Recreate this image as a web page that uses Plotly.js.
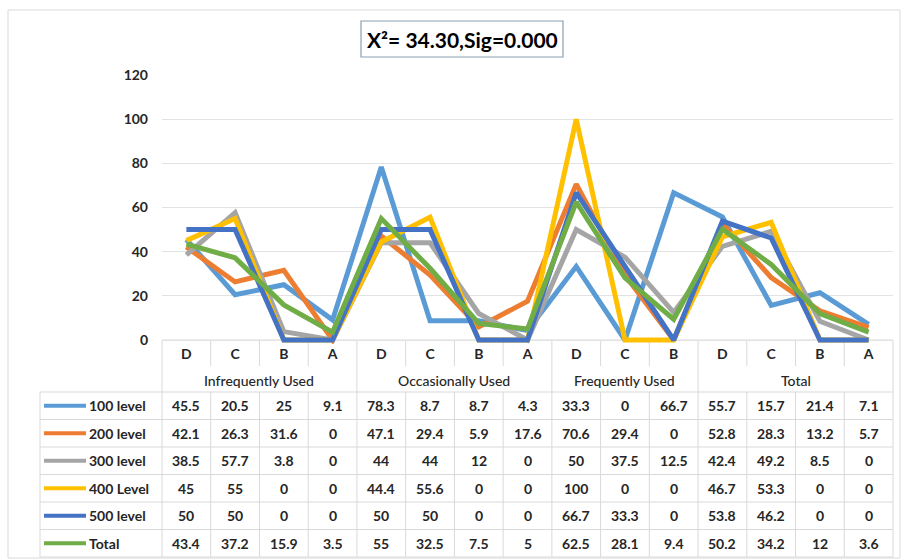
<!DOCTYPE html>
<html>
<head>
<meta charset="utf-8">
<script src="https://cdn.plot.ly/plotly-3.0.1.min.js"></script>
<style>html,body{margin:0;padding:0;background:#fff;}#chart{width:906px;height:560px;}</style>
</head>
<body>
<div id="chart"></div>
<script>
// ---- data ----
const categories = ["D","C","B","A","D","C","B","A","D","C","B","D","C","B","A"];
const groupNames = ["Infrequently Used","Occasionally Used","Frequently Used","Total"];
const groupSizes = [4,4,3,4];
const seriesNames = ["100 level","200 level","300 level","400 Level","500 level","Total"];
const level100 = [45.5,20.5,25,9.1, 78.3,8.7,8.7,4.3, 33.3,0,66.7, 55.7,15.7,21.4,7.1];
const level200 = [42.1,26.3,31.6,0, 47.1,29.4,5.9,17.6, 70.6,29.4,0, 52.8,28.3,13.2,5.7];
const level300 = [38.5,57.7,3.8,0, 44,44,12,0, 50,37.5,12.5, 42.4,49.2,8.5,0];
const level400 = [45,55,0,0, 44.4,55.6,0,0, 100,0,0, 46.7,53.3,0,0];
const level500 = [50,50,0,0, 50,50,0,0, 66.7,33.3,0, 53.8,46.2,0,0];
const levelTotal = [43.4,37.2,15.9,3.5, 55,32.5,7.5,5, 62.5,28.1,9.4, 50.2,34.2,12,3.6];
const yTicks = [0,20,40,60,80,100,120];
const titleText = "X\u00B2= 34.30,Sig=0.000";

const seriesValues = [level100, level200, level300, level400, level500, levelTotal];
const colors = ["#5B9BD5","#ED7D31","#A5A5A5","#FFC000","#4472C4","#70AD47"];

// ---- geometry (pixels) ----
const W = 906, H = 560;
const L = 162, R = 893, T = 75, Z = 340;      // Z = pixel row of value 0
const pxPerUnit = (Z - T) / 120;
const B = 344;                                 // plot bottom slightly below 0 so lines at 0 are not clipped
const yMin = -(B - Z) / pxPerUnit;
const px = x => (x - L) / (R - L);
const py = y => (B - y) / (B - T);
const n = categories.length;
const colW = (R - L) / n;
const catRowBottom = 366;
const groupRowBottom = 392;
const rowH = 27.5;
const tableLeft = 40;
const gridCol = "#d9d9d9";
const FONT = "Lato, 'Open Sans', sans-serif";
const textCol = "#262626";

const traces = seriesValues.map((vals, i) => ({
  type: "scatter", mode: "lines",
  x: categories.map((_, k) => k), y: vals,
  name: seriesNames[i],
  line: {color: colors[i], width: 5},
  hoverinfo: "skip"
}));

const shapes = [];
const annotations = [];
const line = (x0,y0,x1,y1,color,w,layer) => shapes.push({type:"line", xref:"paper", yref:"paper",
  x0:px(x0), y0:py(y0), x1:px(x1), y1:py(y1), line:{color:color||gridCol, width:w||1}, layer:layer||"above"});

// outer chart border
shapes.push({type:"rect", xref:"paper", yref:"paper", x0:px(8), y0:py(10), x1:px(900), y1:py(558),
  line:{color:"#d9d9d9", width:1}, layer:"below"});
// title box
shapes.push({type:"rect", xref:"paper", yref:"paper", x0:px(361), y0:py(21), x1:px(563), y1:py(57),
  line:{color:"#8c9fb5", width:1.2}, fillcolor:"#ffffff"});
annotations.push({xref:"paper", yref:"paper", x:px(462), y:py(39), text:titleText, showarrow:false,
  font:{family:FONT, size:21, color:"#000", weight:"bold"}, xanchor:"center", yanchor:"middle"});

// table top line (category axis line)
line(L, Z, R, Z, gridCol, 1, "below");
// table horizontal lines
const nRows = seriesNames.length;
line(tableLeft, groupRowBottom, R, groupRowBottom);
for (let r = 1; r <= nRows; r++) {
  const y = groupRowBottom + r * rowH;
  line(tableLeft, y, R, y);
}
const tableBottom = groupRowBottom + nRows * rowH;
// vertical lines
line(tableLeft, groupRowBottom, tableLeft, tableBottom);
line(L, Z, L, tableBottom, gridCol, 1, "below");
let boundaries = [];
let acc = 0;
groupSizes.forEach(s => { acc += s; boundaries.push(acc); });
for (let k = 1; k <= n; k++) {
  const x = L + k * colW;
  const isGroup = boundaries.includes(k);
  if (isGroup) line(x, Z, x, tableBottom, gridCol, 1, "below");
  else { line(x, Z, x, catRowBottom, gridCol, 1, "below"); line(x, groupRowBottom, x, tableBottom); }
}
// group labels
let start = 0;
groupNames.forEach((g, i) => {
  const cx = L + (start + groupSizes[i] / 2) * colW;
  annotations.push({xref:"paper", yref:"paper", x:px(cx), y:py(380), text:g, showarrow:false,
    font:{family:FONT, size:14, color:textCol, weight:500}, xanchor:"center", yanchor:"middle"});
  start += groupSizes[i];
});
// data rows
seriesNames.forEach((name, r) => {
  const cy = groupRowBottom + (r + 0.5) * rowH;
  line(44, cy, 86, cy, colors[r], 4);
  annotations.push({xref:"paper", yref:"paper", x:px(87), y:py(cy), text:name, showarrow:false,
    font:{family:FONT, size:14, color:textCol, weight:"bold"}, xanchor:"left", yanchor:"middle"});
  seriesValues[r].forEach((v, k) => {
    annotations.push({xref:"paper", yref:"paper", x:px(L + (k + 0.5) * colW), y:py(cy), text:String(v),
      showarrow:false, font:{family:FONT, size:14, color:textCol, weight:"bold"}, xanchor:"center", yanchor:"middle"});
  });
});

const layout = {
  width: W, height: H,
  margin: {l: L, r: W - R, t: T, b: H - B},
  paper_bgcolor: "#fff", plot_bgcolor: "rgba(0,0,0,0)",
  showlegend: false,
  xaxis: {range: [-0.5, n - 0.5], tickvals: categories.map((_, k) => k), ticktext: categories,
    showgrid: false, zeroline: false, showline: false,
    ticks: "", ticklabelstandoff: 0,
    tickfont: {family: FONT, size: 14, color: textCol, weight: "bold"}, fixedrange: true},
  yaxis: {range: [yMin, 120], tickvals: yTicks, showgrid: true, gridcolor: "#e3e3e3", gridwidth: 1,
    zeroline: false, showline: false, ticks: "", ticklabelstandoff: 13,
    tickfont: {family: FONT, size: 14, color: textCol, weight: "bold"}, fixedrange: true},
  shapes: shapes,
  annotations: annotations
};

Plotly.newPlot("chart", traces, layout, {displayModeBar: false, staticPlot: true});
</script>
</body>
</html>
